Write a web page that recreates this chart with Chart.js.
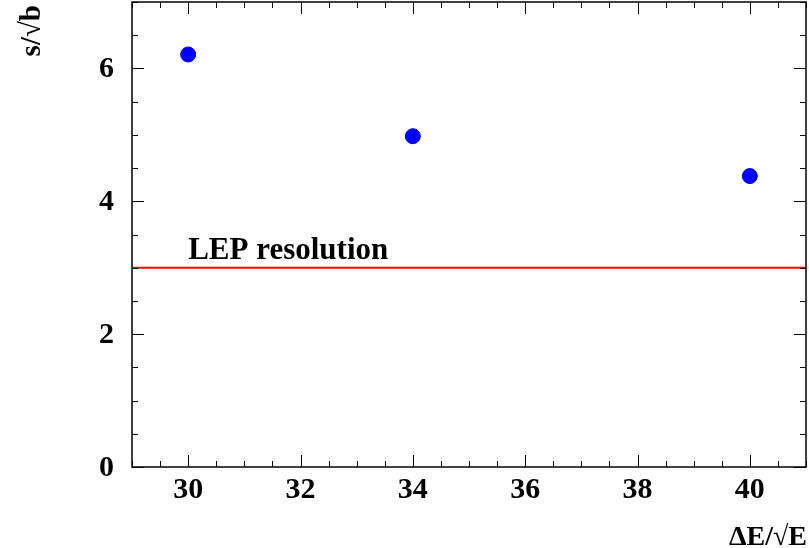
<!DOCTYPE html>
<html>
<head>
<meta charset="utf-8">
<script src="https://cdn.jsdelivr.net/npm/chart.js@4"></script>
<style>
  html, body { margin: 0; padding: 0; background: #fff; }
  #wrap { width: 809px; height: 548px; }
</style>
</head>
<body>
<div id="wrap"><canvas id="chart"></canvas></div>
<script>
  // values
  const resolution = [30, 34, 40];        // dE/sqrt(E)
  const significance = [6.21, 4.98, 4.38]; // s/sqrt(b)
  const lepLevel = 3;
  const xTicks = [30, 32, 34, 36, 38, 40];
  const yTicks = [0, 2, 4, 6];
  const xRange = [29, 41];
  const yRange = [0, 7];

  const serif = "'Liberation Serif', 'Times New Roman', serif";

  // ROOT style frame: inward major/minor ticks on all four sides, labels, titles
  const rootFrame = {
    id: 'rootFrame',
    afterDraw(chart) {
      const { ctx, chartArea: a, scales } = chart;
      const x = scales.x, y = scales.y;
      ctx.save();
      ctx.strokeStyle = '#000';
      ctx.lineWidth = 1.5;
      ctx.strokeRect(a.left, a.top, a.right - a.left, a.bottom - a.top);

      ctx.lineWidth = 1;
      ctx.beginPath();
      for (let v = xRange[0]; v <= xRange[1] + 1e-9; v += 0.5) {
        const len = xTicks.includes(v) ? 12 : 6;
        const px = Math.round(x.getPixelForValue(v)) + 0.5;
        ctx.moveTo(px, a.bottom); ctx.lineTo(px, a.bottom - len);
        ctx.moveTo(px, a.top); ctx.lineTo(px, a.top + len);
      }
      for (let v = yRange[0]; v <= yRange[1] + 1e-9; v += 0.5) {
        const len = yTicks.includes(v) ? 12 : 6;
        const py = Math.round(y.getPixelForValue(v)) + 0.5;
        ctx.moveTo(a.left, py); ctx.lineTo(a.left + len, py);
        ctx.moveTo(a.right, py); ctx.lineTo(a.right - len, py);
      }
      ctx.stroke();

      ctx.fillStyle = '#000';
      ctx.font = 'bold 30px ' + serif;
      ctx.textAlign = 'center';
      ctx.textBaseline = 'alphabetic';
      xTicks.forEach(v => ctx.fillText(String(v), x.getPixelForValue(v), 498));
      ctx.textAlign = 'right';
      ctx.textBaseline = 'middle';
      yTicks.forEach(v => ctx.fillText(String(v), 114, y.getPixelForValue(v) + 1));

      // line label
      ctx.font = 'bold 31px ' + serif;
      ctx.textAlign = 'left';
      ctx.textBaseline = 'alphabetic';
      ctx.fillText('LEP resolution', x.getPixelForValue(30), y.getPixelForValue(lepLevel) - 9);

      // axis titles
      ctx.font = 'bold 28px ' + serif;
      ctx.textAlign = 'right';
      ctx.fillText('ΔE/√E', a.right + 1, 545);
      ctx.font = 'bold 29px ' + serif;
      ctx.translate(40, a.top + 3);
      ctx.rotate(-Math.PI / 2);
      ctx.fillText('s/√b', 0, 0);
      ctx.restore();
    }
  };

  new Chart(document.getElementById('chart'), {
    type: 'scatter',
    data: {
      datasets: [{
        data: resolution.map((v, i) => ({ x: v, y: significance[i] })),
        backgroundColor: '#0000ff',
        borderColor: '#0000ff',
        pointRadius: 7.5,
        pointHoverRadius: 7.5
      }, {
        type: 'line',
        data: xRange.map(v => ({ x: v, y: lepLevel })),
        borderColor: '#ff0000',
        borderWidth: 2,
        pointRadius: 0,
        fill: false
      }]
    },
    options: {
      responsive: true,
      maintainAspectRatio: false,
      animation: false,
      events: [],
      layout: { autoPadding: false, padding: { top: 2, right: 3, left: 132, bottom: 81 } },
      plugins: { legend: { display: false }, tooltip: { enabled: false } },
      scales: {
        x: { type: 'linear', display: false, min: xRange[0], max: xRange[1] },
        y: { type: 'linear', display: false, min: yRange[0], max: yRange[1] }
      }
    },
    plugins: [rootFrame]
  });
</script>
</body>
</html>
